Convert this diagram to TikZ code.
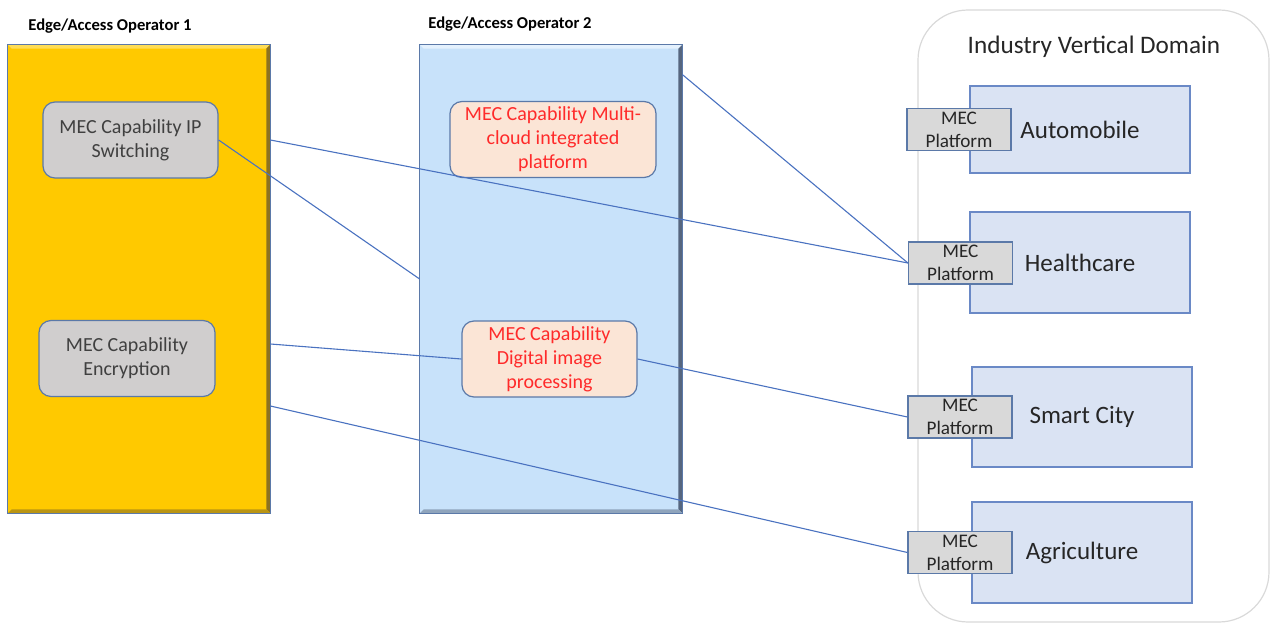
\documentclass[tikz,border=0pt]{standalone}
\usepackage{fontspec}
\setmainfont{Carlito}
\usetikzlibrary{calc}

\definecolor{goldfill}{HTML}{FFC900}
\definecolor{goldlight}{HTML}{FFDD55}
\definecolor{golddark}{HTML}{8C7220}
\definecolor{skyfill}{HTML}{C8E2FA}
\definecolor{skylight}{HTML}{E4F1FD}
\definecolor{skydark}{HTML}{56667F}
\definecolor{boxline}{HTML}{5B79A8}
\definecolor{capgray}{HTML}{D0CECE}
\definecolor{capsalmon}{HTML}{FBE5D6}
\definecolor{captext}{HTML}{404040}
\definecolor{capred}{HTML}{FF2A2A}
\definecolor{vertfill}{HTML}{DAE3F3}
\definecolor{vertline}{HTML}{6A89C6}
\definecolor{platgray}{HTML}{D9D9D9}
\definecolor{domainline}{HTML}{D9D9D9}
\definecolor{link}{HTML}{4A72C0}

\tikzset{
  opbox/.style={minimum width=131pt, minimum height=234pt, inner sep=0pt},
  oplabel/.style={font=\fontsize{8.3}{10}\selectfont\bfseries, text=black},
  capbox/.style={draw=boxline, line width=0.6pt, rounded corners=6pt, align=center,
    inner sep=0pt, minimum height=38pt, font=\fontsize{10}{12}\selectfont},
  vertbox/.style={draw=vertline, fill=vertfill, line width=0.6pt, minimum width=110pt,
    font=\fontsize{12.5}{14}\selectfont, text=black!85},
  platbox/.style={draw=boxline, fill=platgray, line width=0.6pt, minimum width=52pt,
    minimum height=21pt, inner sep=0pt, align=center,
    font=\fontsize{9.6}{11.5}\selectfont, text=black!85},
  link/.style={draw=link, line width=0.55pt}
}

\begin{document}
\begin{tikzpicture}[x=0.5pt, y=-0.5pt]
  \useasboundingbox (0,0) rectangle (1271,626);

  % Operator 1
  \node[oplabel] (lab1) at (110,26) {Edge/Access Operator 1};
  \node[opbox, fill=goldfill] (op1) at (139,279) {};
  \fill[goldlight] (op1.north west) -- (op1.north east) -- ++(-4,4) -- ($(op1.north west)+(4,4)$) -- cycle;
  \fill[golddark] (op1.north east) -- (op1.south east) -- ++(-4,-4) -- ($(op1.north east)+(-4,4)$) -- cycle;
  \fill[golddark!60!goldfill] (op1.south west) -- (op1.south east) -- ++(-4,-4) -- ($(op1.south west)+(4,-4)$) -- cycle;
  \draw[boxline, line width=0.6pt] (op1.north west) rectangle (op1.south east);

  % Operator 2
  \node[oplabel] (lab2) at (510,24) {Edge/Access Operator 2};
  \node[opbox, fill=skyfill] (op2) at (551,279) {};
  \fill[skylight] (op2.north west) -- (op2.north east) -- ++(-4,4) -- ($(op2.north west)+(4,4)$) -- cycle;
  \fill[skydark] (op2.north east) -- (op2.south east) -- ++(-4,-4) -- ($(op2.north east)+(-4,4)$) -- cycle;
  \fill[skydark!50!skyfill] (op2.south west) -- (op2.south east) -- ++(-4,-4) -- ($(op2.south west)+(4,-4)$) -- cycle;
  \draw[boxline, line width=0.6pt] (op2.north west) rectangle (op2.south east);

  % Capabilities
  \node[capbox, fill=capgray, text=captext, minimum width=87.5pt] (ipsw) at (130.5,140) {MEC Capability IP\\Switching};
  \node[capbox, fill=capgray, text=captext, minimum width=88pt] (encr) at (127,358.5) {MEC Capability\\Encryption};
  \node[capbox, fill=capsalmon, text=capred, minimum width=103pt] (multi) at (553,139.5) {MEC Capability Multi-\\cloud integrated\\platform};
  \node[capbox, fill=capsalmon, text=capred, minimum width=87.5pt] (digit) at (549.5,359) {MEC Capability\\Digital image\\processing};

  % Industry vertical domain
  \draw[domainline, line width=0.6pt, rounded corners=25pt] (918,10) rectangle (1269,622);
  \node[font=\fontsize{12.6}{14}\selectfont, text=black!85] (domain) at (1094,47) {Industry Vertical Domain};

  \node[vertbox, minimum height=43.5pt] (auto) at (1080,129.5) {Automobile};
  \node[vertbox, minimum height=50.5pt] (health) at (1080,262.5) {Healthcare};
  \node[vertbox, minimum height=50pt] (city) at (1082,417) {Smart City};
  \node[vertbox, minimum height=50.5pt] (agri) at (1082,552.5) {Agriculture};

  \node[platbox] (pauto) at (959,129.5) {MEC\\Platform};
  \node[platbox] (phealth) at (960.5,263) {MEC\\Platform};
  \node[platbox] (pcity) at (960,417) {MEC\\Platform};
  \node[platbox] (pagri) at (960,552.5) {MEC\\Platform};

  % Links
  \coordinate (o2top) at ($(op2.north east)+(0,30)$);
  \coordinate (o1mid) at (op1.east |- 0,344);
  \coordinate (o1low) at (op1.east |- 0,406);
  \draw[link] (op1.east |- ipsw) -- (phealth.west);
  \draw[link] (ipsw.east) -- (op2.west);
  \draw[link] (o2top) -- (phealth.west);
  \draw[link] (o1mid) -- (digit.west);
  \draw[link] (digit.east) -- (pcity.west);
  \draw[link] (o1low) -- (pagri.west);
\end{tikzpicture}
\end{document}
